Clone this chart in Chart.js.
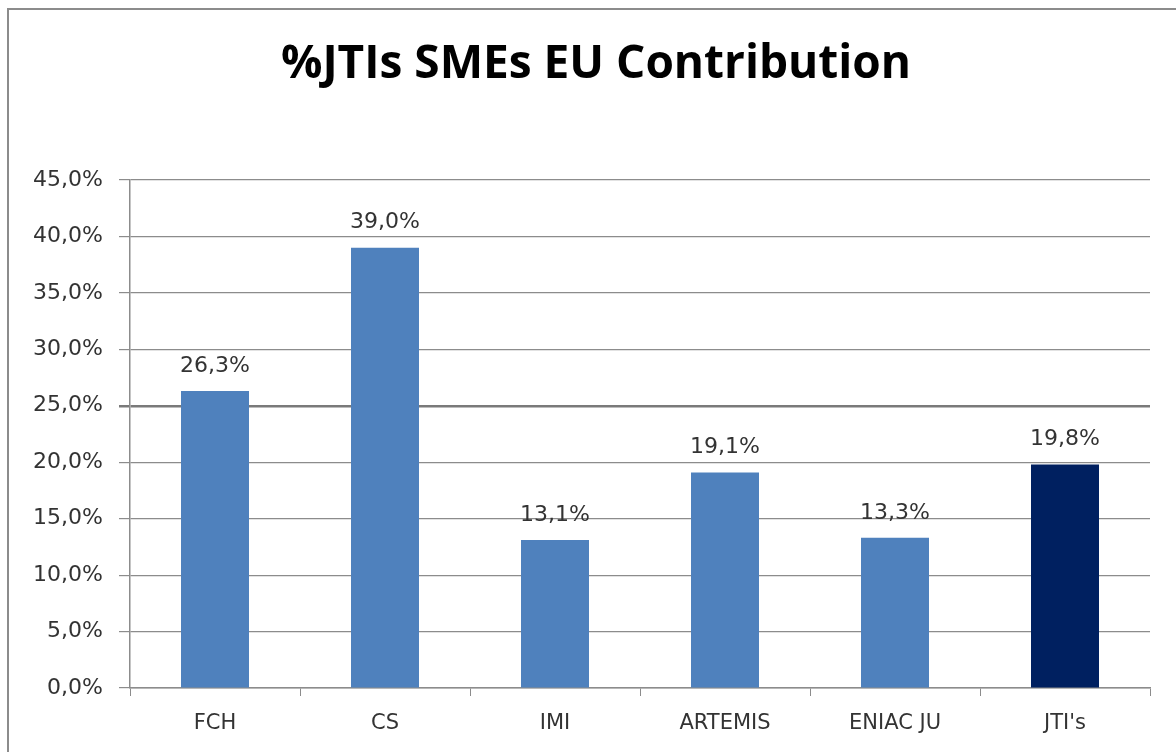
<!DOCTYPE html>
<html>
<head>
<meta charset="utf-8">
<script src="https://cdn.jsdelivr.net/npm/chart.js@4.4.1/dist/chart.umd.min.js"></script>
<style>
html,body{margin:0;padding:0;background:#fff;}
#wrap{width:1176px;height:752px;position:relative;}
</style>
</head>
<body>
<div id="wrap"><canvas id="c" width="1176" height="752"></canvas></div>
<script>
const categories = ["FCH", "CS", "IMI", "ARTEMIS", "ENIAC JU", "JTI's"];
const values = [26.3, 39.0, 13.1, 19.1, 13.3, 19.8];
const barColors = ["#4F81BD", "#4F81BD", "#4F81BD", "#4F81BD", "#4F81BD", "#002060"];
const yTicks = [0, 5, 10, 15, 20, 25, 30, 35, 40, 45];
const titleText = "%JTIs SMEs EU Contribution";

const fmt = v => v.toFixed(1).replace('.', ',') + '%';

const frame = {
  id: 'frame',
  beforeDraw(chart) {
    const ctx = chart.ctx;
    ctx.save();
    ctx.fillStyle = '#fff';
    ctx.fillRect(0, 0, chart.width, chart.height);
    ctx.strokeStyle = '#8c8c8c';
    ctx.lineWidth = 2;
    ctx.strokeRect(8, 9, 1400, 1000);
    ctx.font = 'bold 46px "Open Sans"';
    ctx.fillStyle = '#000';
    ctx.textAlign = 'center';
    ctx.textBaseline = 'alphabetic';
    ctx.fillText(titleText, 596, 78);
    ctx.restore();
  }
};

const labels = {
  id: 'barLabels',
  afterDatasetsDraw(chart) {
    const ctx = chart.ctx;
    const meta = chart.getDatasetMeta(0);
    ctx.save();
    ctx.font = '22px "DejaVu Sans"';
    ctx.fillStyle = '#333333';
    ctx.textAlign = 'center';
    ctx.textBaseline = 'bottom';
    meta.data.forEach((bar, i) => {
      ctx.fillText(fmt(values[i]), bar.x, bar.y - 14);
    });
    ctx.restore();
  }
};

new Chart(document.getElementById('c'), {
  type: 'bar',
  data: {
    labels: categories,
    datasets: [{
      data: values,
      backgroundColor: barColors,
      borderWidth: 0,
      barPercentage: 0.8,
      categoryPercentage: 0.5
    }]
  },
  options: {
    responsive: false,
    animation: false,
    layout: { padding: { left: 0, right: 26, top: 180, bottom: 0 } },
    plugins: {
      legend: { display: false },
      tooltip: { enabled: false },
      title: { display: false }
    },
    scales: {
      x: {
        offset: true,
        grid: { display: true, drawOnChartArea: false, drawTicks: true, tickLength: 8, color: '#8c8c8c', offset: true },
        border: { display: true, color: '#8c8c8c', width: 1.5 },
        ticks: { color: '#333333', font: { family: '"DejaVu Sans"', size: 21 }, padding: 15 },
        afterFit(s) { s.height = 64; }
      },
      y: {
        min: 0,
        max: 45,
        afterBuildTicks(s) { s.ticks = yTicks.map(v => ({ value: v })); },
        grid: {
          color: ctx => ctx.tick && ctx.tick.value === 25 ? '#7a7a7a' : '#8c8c8c',
          lineWidth: ctx => ctx.tick && ctx.tick.value === 25 ? 2.5 : 1.2,
          tickLength: 11
        },
        border: { display: true, color: '#8c8c8c', width: 1.5 },
        ticks: {
          color: '#333333',
          font: { family: '"DejaVu Sans"', size: 22 },
          padding: 16,
          callback: v => fmt(v)
        },
        afterFit(s) { s.width = 130; }
      }
    }
  },
  plugins: [frame, labels]
});
</script>
</body>
</html>
